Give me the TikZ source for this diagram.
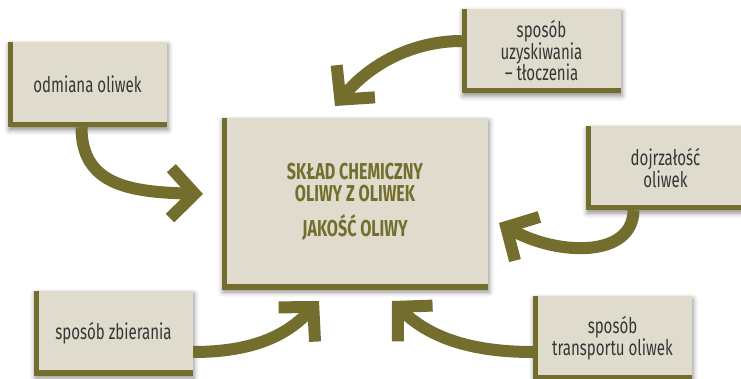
\documentclass[tikz,border=0pt]{standalone}
\usepackage{fontspec}
\setmainfont{Fira Sans}[FakeStretch=0.7]
\usetikzlibrary{arrows.meta,shadows.blur}
\definecolor{beige}{HTML}{E0DCCD}
\definecolor{olv}{HTML}{746E2E}
\definecolor{txt}{HTML}{363636}
\tikzset{
  box/.style={fill=beige, inner sep=0pt, align=center, text=txt,
    font=\fontsize{21.5}{21.5}\selectfont,
    blur shadow={shadow xshift=1pt, shadow yshift=-3pt, shadow blur radius=5pt, shadow opacity=45},
    path picture={\draw[olv,line width=10pt] (path picture bounding box.north west) -- (path picture bounding box.south west) -- (path picture bounding box.south east);}},
  smallbox/.style={box, minimum width=159pt, minimum height=84pt},
  ctext/.style={align=center, text=olv, font=\bfseries\fontsize{23}{22}\selectfont},
  arr/.style={draw=olv, line width=12pt, -{Straight Barb[length=24pt,width=50pt]}}
}
\begin{document}
\begin{tikzpicture}[x=1pt,y=-1pt]
\useasboundingbox (0,0) rectangle (741,379);
\node[smallbox, minimum height=85pt] (A) at (87.5,84.5) {odmiana oliwek};
\node[smallbox] (B) at (541.5,51) {sposób\\uzyskiwania\\– tłoczenia};
\node[smallbox] (C) at (665.5,168) {dojrzałość\\oliwek};
\node[smallbox] (D) at (113.5,333) {sposób zbierania};
\node[smallbox] (E) at (612.5,338) {sposób\\transportu oliwek};
\node[box, minimum width=266pt, minimum height=171pt] (M) at (355,203.5) {};
\node[ctext] (Mt) at (355,202) {SKŁAD CHEMICZNY\\OLIWY Z OLIWEK\\[12pt]JAKOŚĆ OLIWY};
\coordinate (tA) at (203,194);
\coordinate (tB) at (335,106);
\coordinate (tC) at (499,223);
\coordinate (tD) at (319,301);
\coordinate (tE) at (392,301);
\draw[arr] ([xshift=-6pt]A.south) .. controls ([xshift=-6pt,yshift=-58pt]A.south) and (130,192) .. (tA);
\draw[arr] ([yshift=10pt]B.west) .. controls (415,41) and (372,62) .. (tB);
\draw[arr] ([xshift=-32pt]C.south) .. controls (633,258) and (558,256) .. (tC);
\draw[arr] ([yshift=-19pt]D.east) .. controls (252,352) and (286,336) .. (tD);
\draw[arr] ([yshift=-14pt]E.west) .. controls (468,352) and (428,336) .. (tE);
\end{tikzpicture}
\end{document}
